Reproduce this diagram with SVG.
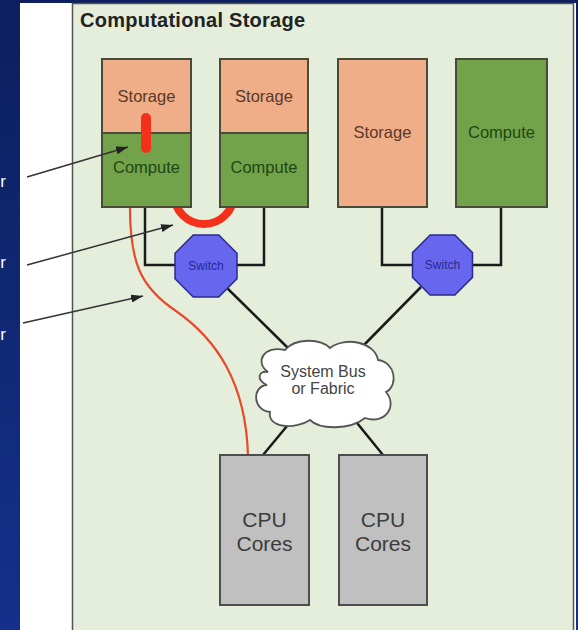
<svg xmlns="http://www.w3.org/2000/svg" width="578" height="630" viewBox="0 0 578 630">
<style>
.lbl{font-family:"Liberation Sans",Arial,sans-serif;text-anchor:middle}
.stg{fill:#efad88;stroke:#4a4a3a;stroke-width:2}
.cmp{fill:#72a24a;stroke:#4a4a3a;stroke-width:2}
.cpu{fill:#c0c0c0;stroke:#4d4d4d;stroke-width:2}
.sw{fill:#6666ee;stroke:#2b2b8c;stroke-width:1.5}
.wire{fill:none;stroke:#1a1a1a;stroke-width:2.5}
.ptr{fill:none;stroke:#333;stroke-width:1.5;marker-end:url(#ah)}
.tS{fill:#5a3a2a;font-size:16.5px}
.tC{fill:#1e4812;font-size:16.5px}
.tW{fill:#2a2a90;font-size:12px}
.side{font-family:"Liberation Sans",Arial,sans-serif;font-size:17px;fill:#fff;text-anchor:end}
</style>
<defs>
<linearGradient id="bg" x1="0" y1="0" x2="0" y2="1">
<stop offset="0" stop-color="#0c1f5e"/>
<stop offset="1" stop-color="#14308a"/>
</linearGradient>
<marker id="ah" viewBox="0 0 12 8" refX="12" refY="4" markerWidth="12" markerHeight="8" markerUnits="userSpaceOnUse" orient="auto">
<path d="M0 0 L12 4 L0 8 Z" fill="#222"/>
</marker>
</defs>
<rect x="0" y="0" width="578" height="630" fill="url(#bg)"/>
<rect x="20" y="3" width="556" height="627" fill="#ffffff"/>
<rect x="72.5" y="3.5" width="501" height="630" fill="#e5eedb" stroke="#555" stroke-width="1.5"/>
<g id="side-text">
<text class="side" x="6" y="187">r</text>
<text class="side" x="6" y="268">r</text>
<text class="side" x="6" y="340">r</text>
</g>
<text id="title" x="80" y="27" font-family="'Liberation Sans',Arial,sans-serif" font-size="20" font-weight="bold" fill="#222" textLength="225">Computational Storage</text>
<g id="connectors">
<path class="wire" d="M145 207 V265 H176"/>
<path class="wire" d="M264 207 V265 H236"/>
<path class="wire" d="M382 207 V265 H413"/>
<path class="wire" d="M501 207 V265 H472"/>
<path class="wire" d="M226 287 L290 350"/>
<path class="wire" d="M421 287 L362 347"/>
<path class="wire" d="M292 420 L263 455"/>
<path class="wire" d="M353 418 L383 455"/>
<path d="M174 194 A30 30 0 0 0 234 194" fill="none" stroke="#f5301a" stroke-width="8"/>
<path d="M130 200 C129 262 140 287 176 311 C216 339 246 382 248 456" fill="none" stroke="#e84a2a" stroke-width="2.2"/>
</g>
<g id="node-cs1">
<rect class="stg" x="102" y="59" width="89" height="74"/>
<rect class="cmp" x="102" y="133" width="89" height="74"/>
<text class="lbl tS" x="146.5" y="102">Storage</text>
<text class="lbl tC" x="146.5" y="173">Compute</text>
<rect x="141" y="113" width="10" height="40" rx="5" fill="#f5301a"/>
</g>
<g id="node-cs2">
<rect class="stg" x="220" y="59" width="88" height="74"/>
<rect class="cmp" x="220" y="133" width="88" height="74"/>
<text class="lbl tS" x="264" y="102">Storage</text>
<text class="lbl tC" x="264" y="173">Compute</text>
</g>
<g id="node-storage">
<rect class="stg" x="338" y="59" width="89" height="148"/>
<text class="lbl tS" x="382.5" y="138">Storage</text>
</g>
<g id="node-compute">
<rect class="cmp" x="456" y="59" width="91" height="148"/>
<text class="lbl tC" x="501.5" y="138">Compute</text>
</g>
<g id="node-switch1">
<polygon class="sw" points="193.2,235 218.8,235 237,253.2 237,278.8 218.8,297 193.2,297 175,278.8 175,253.2"/>
<text class="lbl tW" x="206" y="270">Switch</text>
</g>
<g id="node-switch2">
<polygon class="sw" points="430.1,235 454.9,235 472.5,252.6 472.5,277.4 454.9,295 430.1,295 412.5,277.4 412.5,252.6"/>
<text class="lbl tW" x="442.5" y="269">Switch</text>
</g>
<g id="node-bus">
<path d="M268 372 C254 362 264 345 285 350 C295 338 320 338 330 348 C345 336 375 342 378 360 C395 362 399 385 386 392 C398 406 385 425 365 418 C350 430 320 430 310 420 C295 430 267 428 270 412 C252 410 252 386 267 385 C256 380 258 370 268 372 Z" fill="#fff" stroke="#555" stroke-width="1.8"/>
<text class="lbl" x="323" y="377" font-size="16" fill="#444">System Bus</text>
<text class="lbl" x="323" y="394" font-size="16" fill="#444">or Fabric</text>
</g>
<g id="node-cpu1">
<rect class="cpu" x="220" y="455" width="89" height="150"/>
<text class="lbl" x="264.5" y="527" font-size="21" fill="#3c3c3c">CPU</text>
<text class="lbl" x="264.5" y="551" font-size="21" fill="#3c3c3c">Cores</text>
</g>
<g id="node-cpu2">
<rect class="cpu" x="339" y="455" width="88" height="150"/>
<text class="lbl" x="383" y="527" font-size="21" fill="#3c3c3c">CPU</text>
<text class="lbl" x="383" y="551" font-size="21" fill="#3c3c3c">Cores</text>
</g>
<g id="pointers">
<path class="ptr" d="M27 177 L128 147"/>
<path class="ptr" d="M27 265 L173 225"/>
<path class="ptr" d="M23 323 L143 296"/>
</g>
</svg>
